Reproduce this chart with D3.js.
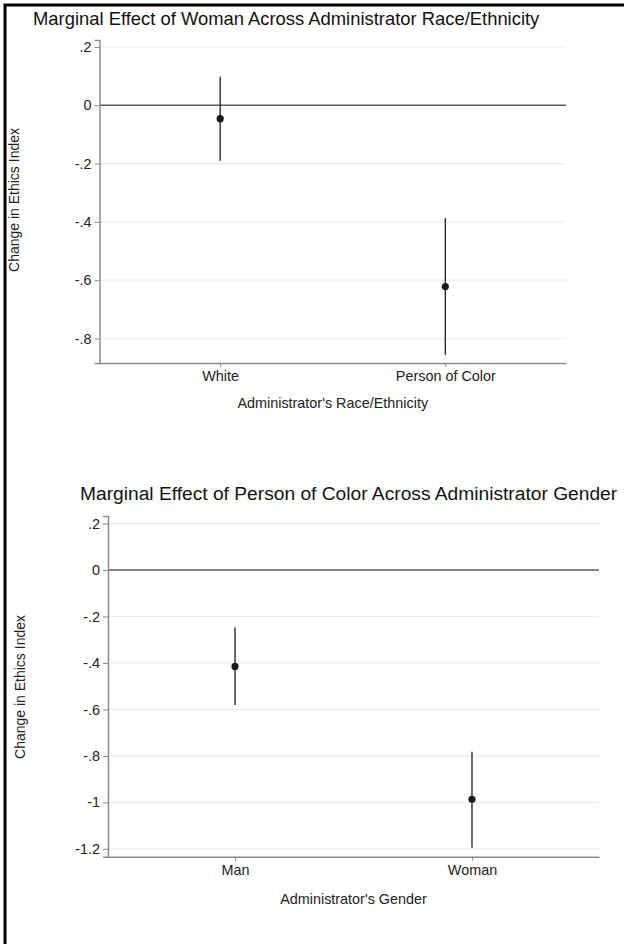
<!DOCTYPE html>
<meta charset="utf-8">
<style>
body { margin: 0; background: #fff; }
svg { display: block; font-family: "Liberation Sans", Arial, sans-serif; }
</style>
<body>
<svg width="624" height="944"></svg>
<script src="https://d3js.org/d3.v7.min.js"></script>
<script>
// top panel: effect of woman, by race/ethnicity
var raceCats = ["White", "Person of Color"];
var raceEst = [-0.046, -0.622];
var raceLo = [-0.19, -0.856];
var raceHi = [0.098, -0.387];
var raceTicks = [0.2, 0, -0.2, -0.4, -0.6, -0.8];

// bottom panel: effect of person of color, by gender
var genderCats = ["Man", "Woman"];
var genderEst = [-0.415, -0.987];
var genderLo = [-0.581, -1.196];
var genderHi = [-0.247, -0.782];
var genderTicks = [0.2, 0, -0.2, -0.4, -0.6, -0.8, -1, -1.2];

var svg = d3.select("svg");

// stata style labels: .2, -.2, -1.2
var fmt = v => String(v).replace(/^(-?)0\./, "$1.");

function drawPanel(p) {
  var g = svg.append("g");

  var x = d3.scalePoint()
    .domain(p.cats)
    .range([p.left, p.right])
    .padding(0.536);

  var y = d3.scaleLinear()
    .domain(p.domain)
    .range([p.bottom, p.top]);

  // gridlines
  g.selectAll(".grid")
    .data(p.ticks.filter(t => t !== 0))
    .enter().append("line")
      .attr("x1", p.left).attr("x2", p.right)
      .attr("y1", d => y(d)).attr("y2", d => y(d))
      .attr("stroke", "#ebebeb")
      .attr("stroke-width", 1.2);

  // zero line
  g.append("line")
    .attr("x1", p.left).attr("x2", p.right)
    .attr("y1", y(0)).attr("y2", y(0))
    .attr("stroke", "#5a5a5a")
    .attr("stroke-width", 1.6);

  // y axis
  var yAxis = g.append("g")
    .attr("transform", "translate(" + p.left + ",0)")
    .call(d3.axisLeft(y).tickValues(p.ticks).tickFormat(fmt).tickSize(5).tickPadding(3));
  yAxis.select(".domain").attr("stroke", "#8c8c8c").attr("stroke-width", 1.5);
  yAxis.selectAll(".tick line").attr("stroke", "#8c8c8c");
  yAxis.selectAll(".tick text")
    .attr("font-size", 14.4)
    .attr("font-family", "Liberation Sans, Arial, sans-serif")
    .attr("fill", "#222");

  // x axis
  var xAxis = g.append("g")
    .attr("transform", "translate(0," + p.bottom + ")")
    .call(d3.axisBottom(x).tickSize(4).tickSizeOuter(0).tickPadding(4));
  xAxis.select(".domain").attr("stroke", "#8c8c8c").attr("stroke-width", 1.5);
  xAxis.selectAll(".tick line").attr("stroke", "#8c8c8c");
  xAxis.selectAll(".tick text")
    .attr("font-size", 14.4)
    .attr("font-family", "Liberation Sans, Arial, sans-serif")
    .attr("fill", "#222");

  // confidence intervals
  g.selectAll(".ci")
    .data(p.cats)
    .enter().append("line")
      .attr("x1", d => x(d)).attr("x2", d => x(d))
      .attr("y1", (d, i) => y(p.hi[i]))
      .attr("y2", (d, i) => y(p.lo[i]))
      .attr("stroke", "#2a2a2a")
      .attr("stroke-width", 1.4);

  // point estimates
  g.selectAll(".pt")
    .data(p.cats)
    .enter().append("circle")
      .attr("cx", d => x(d))
      .attr("cy", (d, i) => y(p.est[i]))
      .attr("r", 3.6)
      .attr("fill", "#1a1a1a");

  // titles
  g.append("text")
    .attr("x", p.titleX).attr("y", p.titleY)
    .attr("font-size", p.titleSize)
    .attr("fill", "#111")
    .text(p.title);

  g.append("text")
    .attr("x", (p.left + p.right) / 2).attr("y", p.xTitleY)
    .attr("text-anchor", "middle")
    .attr("font-size", 14.4)
    .attr("fill", "#222")
    .text(p.xTitle);

  g.append("text")
    .attr("transform", "translate(" + p.yTitleX + "," + p.yTitleMid + ") rotate(-90)")
    .attr("text-anchor", "middle")
    .attr("font-size", 14)
    .attr("fill", "#222")
    .text("Change in Ethics Index");
}

drawPanel({
  cats: raceCats, est: raceEst, lo: raceLo, hi: raceHi, ticks: raceTicks,
  domain: [-0.884, 0.224],
  left: 99.5, right: 566, top: 40, bottom: 363,
  title: "Marginal Effect of Woman Across Administrator Race/Ethnicity",
  titleX: 33, titleY: 24.5, titleSize: 18.4,
  xTitle: "Administrator's Race/Ethnicity", xTitleY: 408,
  yTitleX: 19, yTitleMid: 200
});

drawPanel({
  cats: genderCats, est: genderEst, lo: genderLo, hi: genderHi, ticks: genderTicks,
  domain: [-1.234, 0.2325],
  left: 108, right: 599, top: 516, bottom: 856.7,
  title: "Marginal Effect of Person of Color Across Administrator Gender",
  titleX: 80, titleY: 500, titleSize: 19.2,
  xTitle: "Administrator's Gender", xTitleY: 904,
  yTitleX: 25, yTitleMid: 687
});

// black frame on the left and top edges
svg.append("path")
  .attr("d", "M5,944 V5 H624")
  .attr("fill", "none")
  .attr("stroke", "#000")
  .attr("stroke-width", 3);
</script>
</body>
